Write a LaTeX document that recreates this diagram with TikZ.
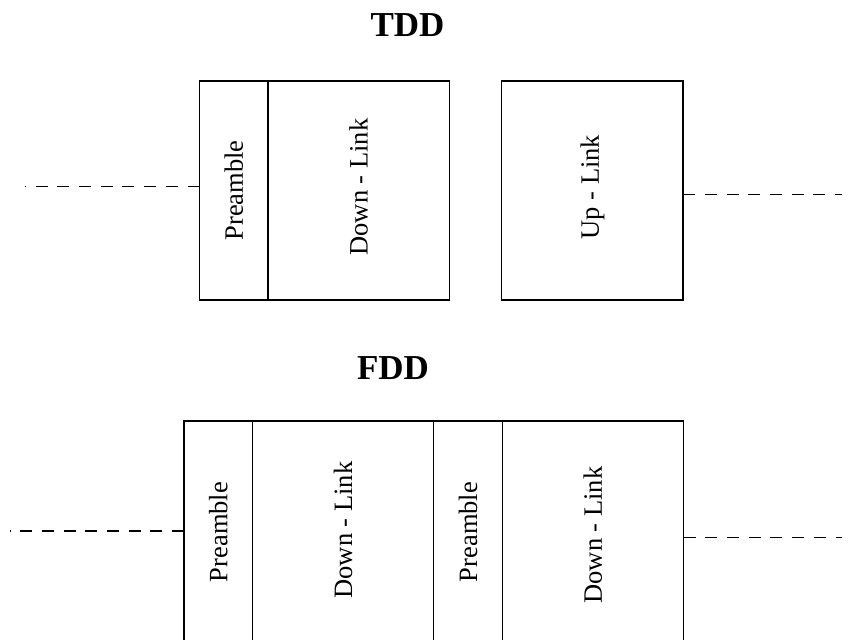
\documentclass[tikz,border=0pt]{standalone}
\usepackage{fontspec}
\usepackage{graphicx}
\setmainfont{Liberation Serif}
\begin{document}
\begin{tikzpicture}[x=0.5pt,y=-0.5pt,
  seg/.style={draw, line width=0.65pt, inner sep=0pt, outer sep=0pt, minimum height=109.5pt, font=\fontsize{13.25}{15}\selectfont},
  narrow/.style={seg, minimum width=34.2pt},
  wide/.style={seg, minimum width=90.7pt},
  tall/.style={minimum height=111pt},
  title/.style={font=\fontsize{17.5}{20}\selectfont\bfseries, anchor=base},
  dashline/.style={line width=0.65pt, dash pattern=on 6pt off 4.85pt}]
\clip (0,0) rectangle (852,639);
\useasboundingbox (0,0) rectangle (852,639);
% TDD
\node[title] (tdd) at (407.5,36) {TDD};
\node[narrow, anchor=north west] (pre1) at (199.5,81) {\rotatebox{90}{Preamble}};
\node[wide, anchor=north west] (dl1) at (pre1.north east) {\rotatebox{90}{\hspace{3.5pt}Down - Link}};
\node[wide, anchor=north west] (ul1) at (501.7,81) {\rotatebox{90}{\hspace{3.5pt}Up - Link}};
\coordinate (tl) at (25,186.7);
\coordinate (tr) at (842,194.3);
\draw[dashline] (tl -| pre1.west) -- (tl);
\draw[dashline] (tr -| ul1.east) -- (tr);
% FDD
\node[title] (fdd) at (393,379.3) {FDD};
\node[narrow, tall, anchor=north west] (pre2) at (184,421) {\rotatebox{90}{Preamble}};
\node[wide, tall, anchor=north west] (dl2) at (pre2.north east) {\rotatebox{90}{\hspace{2pt}Down - Link}};
\node[narrow, tall, anchor=north west] (pre3) at (dl2.north east) {\rotatebox{90}{Preamble}};
\node[wide, tall, anchor=north west] (dl3) at (pre3.north east) {\rotatebox{90}{Down - Link\hspace{3pt}}};
\coordinate (fl) at (10,531);
\coordinate (fr) at (842,537.3);
\draw[dashline] (fl -| pre2.west) -- (fl);
\draw[dashline] (fr -| dl3.east) -- (fr);
\end{tikzpicture}
\end{document}
